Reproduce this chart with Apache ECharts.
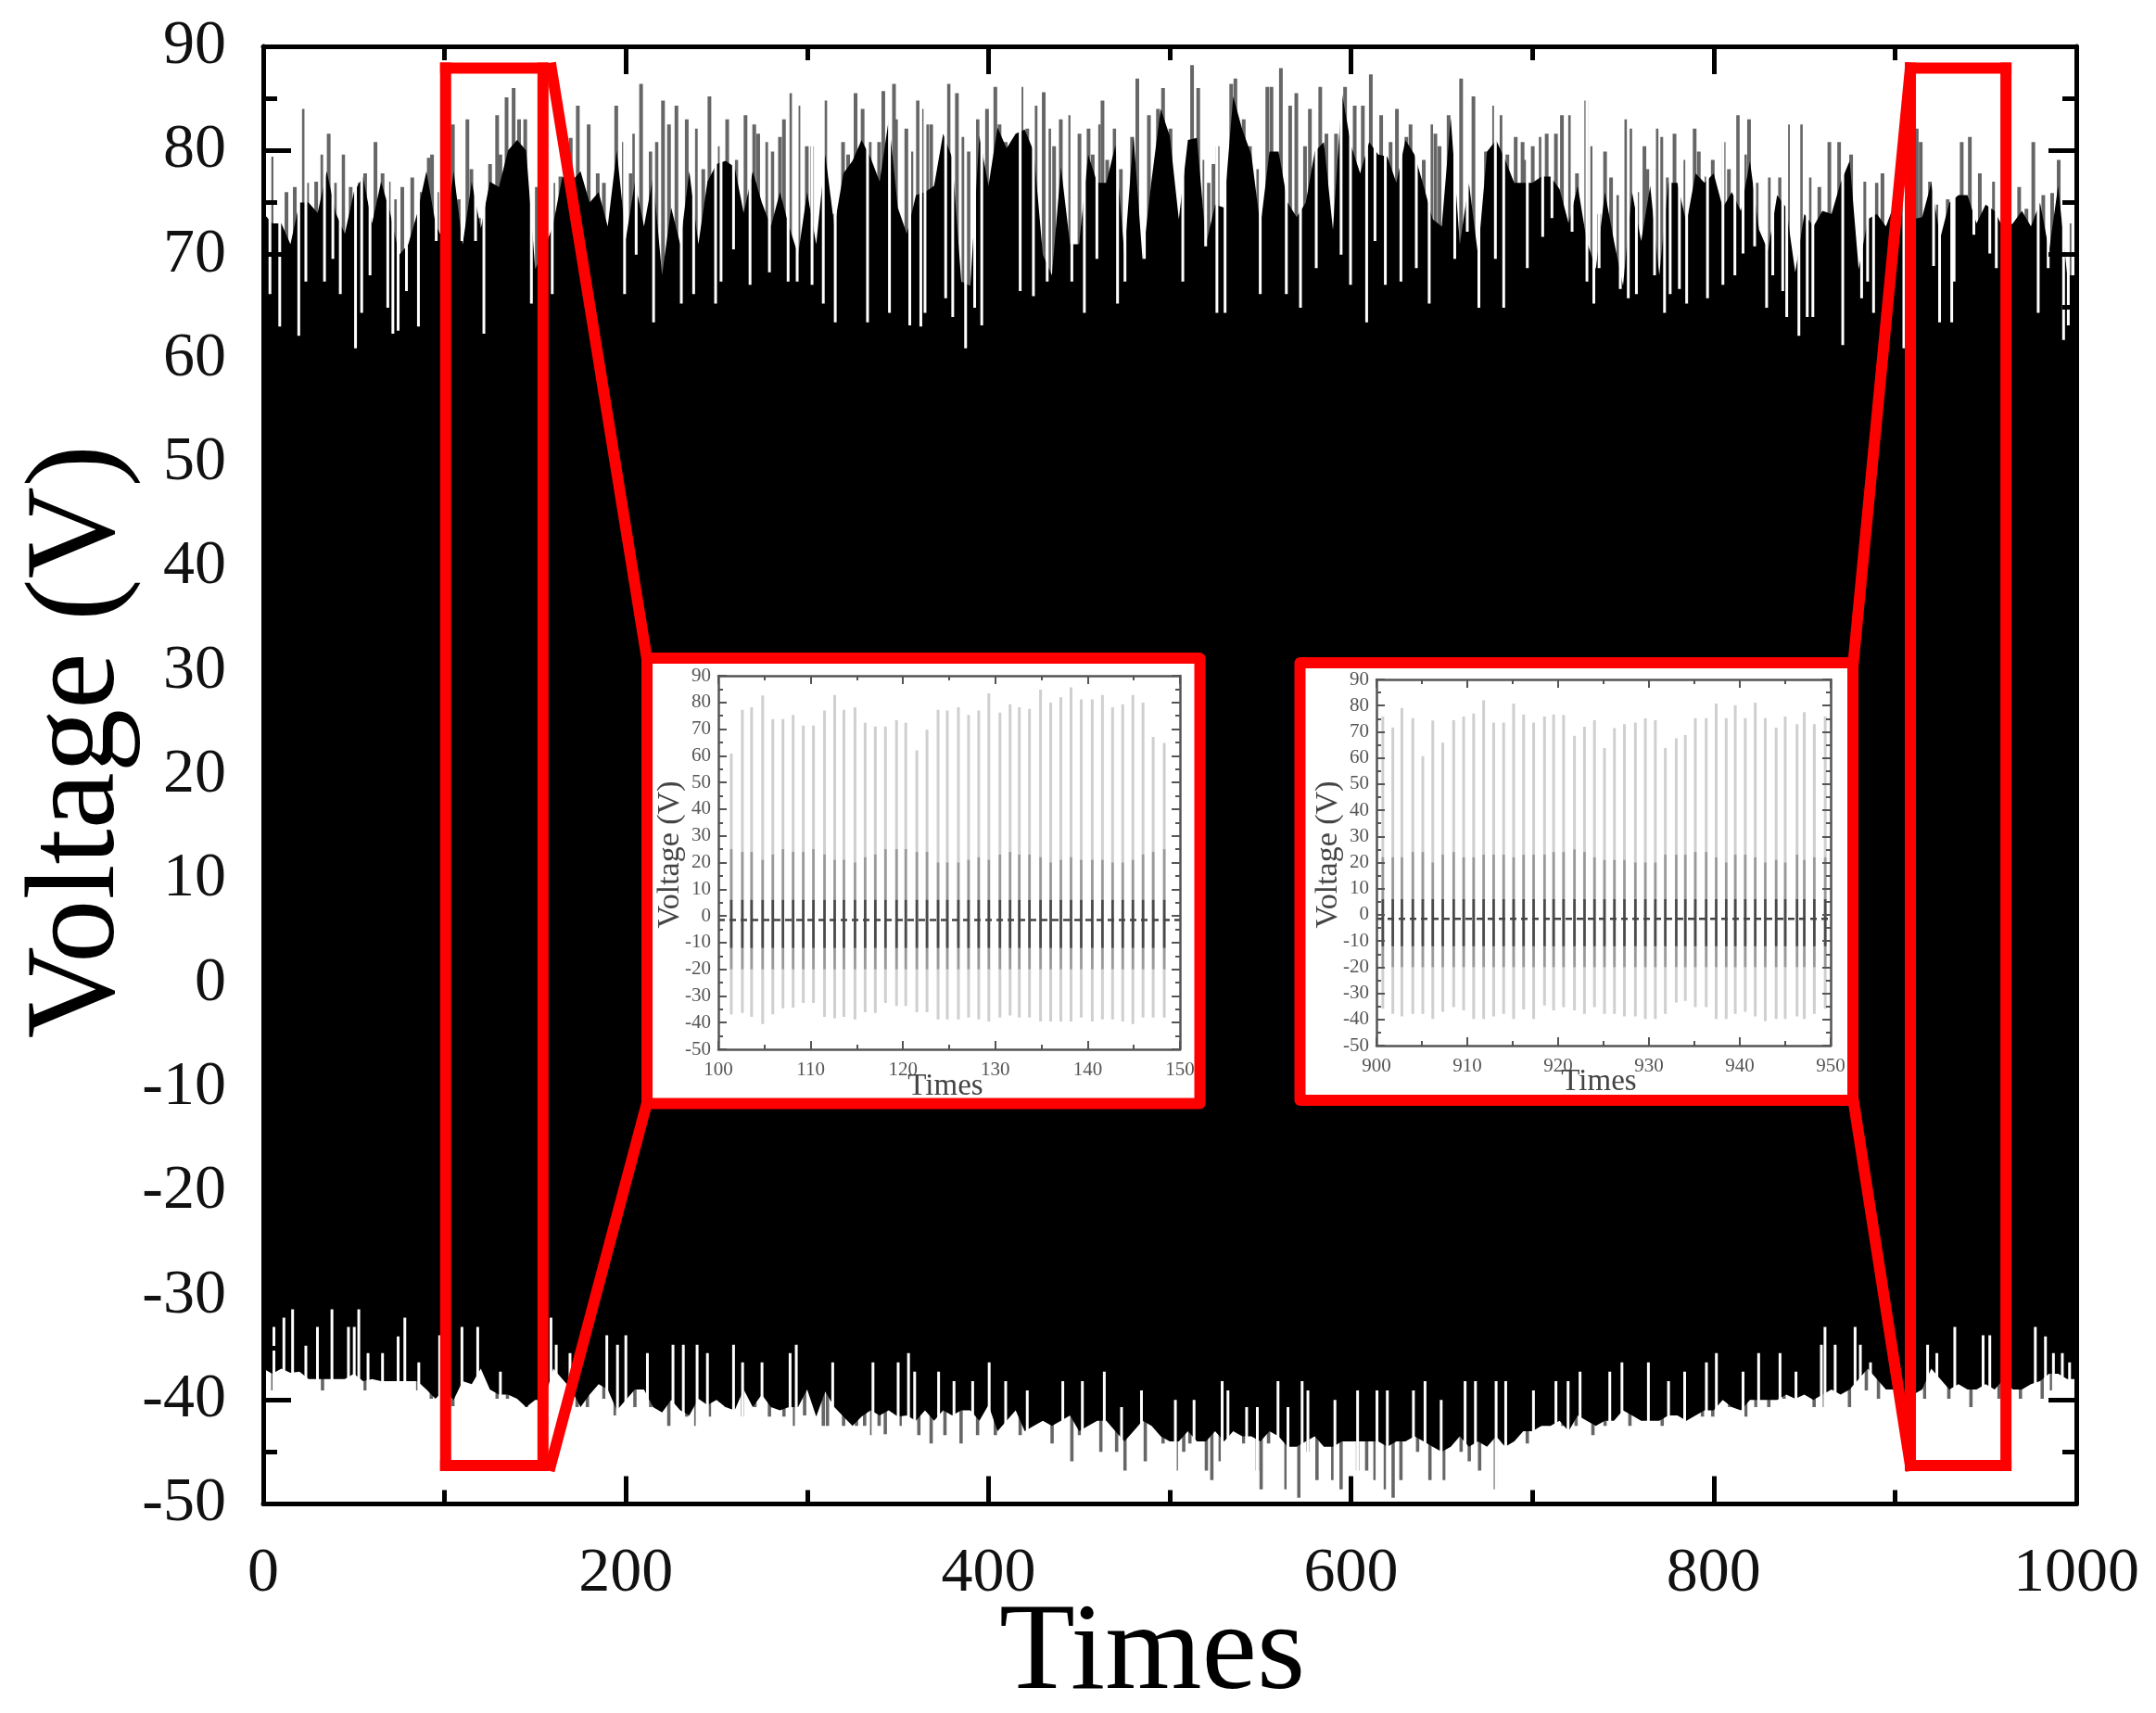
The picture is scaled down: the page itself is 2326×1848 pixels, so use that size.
<!DOCTYPE html>
<html>
<head>
<meta charset="utf-8">
<style>html,body{margin:0;padding:0;background:#fff}#c{width:2326px;height:1848px;filter:blur(0.7px)}</style>
<script src="https://cdn.jsdelivr.net/npm/echarts@6/dist/echarts.min.js"></script>
</head>
<body>
<div id="c"></div>
<script>
const levelStep = 5;
const upperLevels = [
74,73,73,71,75,75,74,78,74,72,
76,77.5,73,77,74,70,71,74,78,73,
71,78,71,77,72.5,77,76.5,80,81,80,
68.6,70.4,73,77.5,77,78,75,76,72.7,80,
71.5,77,72.7,77.5,68,74.5,71,78,71,77,
78.7,79,78.4,74,78,75,72.7,76,72.7,70,
76,71,79.6,72.7,77.8,79,81,79.3,77,83,
74.5,72,75.7,76,76.6,81.6,79.3,67.4,67,81.4,
76.6,82.2,80.2,81.6,82,79.9,70,68,78.4,71,
71,79.6,76.9,76.9,80.5,70,81.4,69.5,77.2,84,
81.4,73.4,81,81.2,71,74.8,74.5,85.2,82,79.6,
72.7,79.9,79.9,75,73.6,75,79.9,80.8,72.4,85.5,
80.5,77.8,80.8,79.6,79.4,76.9,81,79.6,76.6,73.4,
72.7,83.1,71,76.9,70,79.9,81,79.1,76.9,76.9,
76.9,77.5,77.5,76.3,73,76.6,71.3,68.6,76,71.3,
67,76,71.3,76.6,68,76.9,76.9,73,77.8,76.9,
77.8,74.5,76,74.2,79,72.4,70.4,75.7,74.5,68.3,
73.9,72.7,74.2,73.9,76.9,79,68.6,73.4,73.9,72.7,
75,76,73.4,73.6,76.9,71.6,75,75.7,75.7,73,
74.8,74.2,72.4,73,74.2,72.7,75,70.4,76.6,68,
68];
const lowerLevels = [
-37,-37.5,-37,-37.4,-37.3,-38,-38,-38,-38,-38,
-37.5,-38.2,-38,-38.2,-38.2,-38.2,-38.2,-38.2,-39,-39.9,
-39,-40,-38.2,-38.5,-37,-39,-39.5,-39.5,-39.9,-40.7,
-40,-40,-37,-38,-39,-40.7,-39.5,-38.5,-39,-41,
-40,-39,-39,-40.7,-41.2,-40,-41,-41.5,-39.9,-40.5,
-40,-40.7,-41,-39,-40.7,-39.5,-40.7,-41,-40.7,-40.7,
-39,-41.6,-39.2,-40.7,-41.6,-42.5,-41.6,-41,-41.5,-41,
-41.6,-41.5,-42,-41,-42,-41,-41.5,-41,-41,-42,
-40.5,-43,-42,-41,-43,-42.5,-42,-42.5,-42,-41.5,
-43,-42.5,-42,-42,-43,-44,-43,-42,-42.5,-43.5,
-44,-44,-43,-44,-44,-43,-44,-43,-43.5,-43.5,
-44,-43,-43.5,-44.5,-44.5,-44,-43.5,-44.5,-44.5,-44,
-44,-44,-44,-44,-44.5,-44,-44,-43.5,-44,-44.5,
-45,-44.5,-43.5,-44.5,-44,-44.5,-43.5,-44.5,-44,-43,
-43,-42.5,-42.5,-42,-43,-41.5,-42,-42.5,-42,-42,
-41,-41.5,-42,-42,-42,-41.5,-41.5,-42,-41.5,-41,
-41,-40,-40.7,-41,-40,-40,-40,-40,-39.5,-39.9,
-39.5,-40,-39.5,-39,-39.5,-39,-38,-37,-38,-39,
-39,-40,-39.5,-39,-37,-38,-39,-38.5,-39,-39,
-38.5,-39,-38,-39,-39,-38.5,-38.2,-37.5,-37.5,-38,
-38];
const upperPeaks = [[4.6,79.4],[12.8,76],[17.4,76.5],[22.4,84],[24.2,76.9],[29.2,77],[32.6,79.6],[36.1,81.6],[39.5,76.9],[44.1,79.6],[48.2,76.5],[53.2,76.9],[56.2,77.8],[61.9,80.8],[65.8,77.8],[69.2,77],[73.1,75.3],[76.7,76.5],[82.2,77.4],[86.8,76],[91.3,79.3],[93.1,79.6],[95.9,76],[104.6,82.5],[108,75.3],[112.6,83],[114.8,78.2],[119,73.5],[125.1,78.7],[129,83.4],[130.8,79.6],[134.2,85.1],[138.1,86],[141.1,83],[144.5,83],[150.9,76.5],[160,76.9],[163.9,77.5],[169.6,81.2],[173.5,84.3],[179.5,82.5],[184.5,77.8],[187.9,76.9],[194.7,84.3],[198.9,80.8],[202.7,77.8],[204.6,81.6],[208.4,86.4],[213.7,79.9],[216.9,80.8],[220.5,84.8],[223.8,82.5],[227.9,84.3],[233.6,83],[238.6,82.1],[242.7,78.2],[246.1,85.2],[251.8,80.4],[255.9,83],[260.9,79.1],[266,83.4],[270.8,82.5],[273,81.6],[278,80.8],[280.8,79.9],[285,81.3],[287.2,83],[290.6,85.5],[295.2,84.3],[299.8,80.4],[302.7,80.4],[310,84.8],[314.6,73.9],[319.8,80.8],[322.6,79.6],[326.7,85.5],[330.6,84],[334.5,80.8],[339.7,80.8],[342,85.7],[347.9,86.4],
[349,83],[354.7,82.1],[357.5,79.9],[361.1,84.8],[363.4,84],[366.1,82.5],[368.4,82.5],[373.5,78.7],[378,86.4],[382.6,85.5],[386.2,81.3],[389,79.9],[394,83],[399.2,84],[403.8,86.1],[406.1,82.5],[409.5,80.8],[413.6,79.6],[418.2,86.1],[421.4,82.1],[426,84.3],[430.5,85.6],[433.5,82.1],[436.2,80.4],[439.9,83],[445.1,83.4],[450.2,81.6],[455.2,82.1],[457.5,79.6],[460.9,82.5],[462.9,84.8],[465.5,79.1],[469.6,82.1],[473,78.2],[479.2,81.3],[482.1,86.9],[488.5,83.4],[493.5,84],[496.3,86],[500.4,82.1],[512.3,88.2],[515.7,86],[519.1,79.1],[521.4,76.9],[524.1,78.7],[526.4,80.4],[533.9,86.4],[536.2,86.9],[540.8,83],[544.2,80.4],[548.8,78.2],[553.8,86.1],[556.1,86.1],[561.3,87.9],[566.4,84.3],[569.8,85.5],[574.6,80.4],[577.3,84],[583,86.1],[586.4,81.6],[591.7,81.6],[596.7,86.1],[602,84.3],[606.5,84.3],[610.9,87.3],[616.6,83.4],[621.8,80.8],[625.3,84],[630.5,81.3],[632.8,82.5],[640.1,79.1],[644.2,82.5],[646.5,81.6],[648.8,80.4],[653.8,83.4],[660.7,86.9],[667.5,85.2],[674.4,79.9],[678.9,84.3],[683,83.4],[686.2,79.6],[690.8,81.3],
[694.6,80.8],[696.2,79.1],[700.2,80.4],[704.6,81.3],[707.9,81.6],[713,81.6],[716.3,83.4],[720.8,83.4],[724.6,77.8],[729.7,84.8],[733,80.4],[736.8,73.9],[740.1,79.9],[743.4,77.4],[747.4,75.7],[751.8,83],[754,82.1],[757.8,76],[761.8,80.4],[763.4,78.2],[768.5,82.1],[771.6,81.3],[774.5,77.4],[778.4,81.6],[784.4,79.1],[789.5,82.1],[791.8,79.9],[796,77.5],[799.5,79.1],[805.5,80.8],[808.4,78.2],[813.3,83.4],[817.3,79.6],[819.5,83],[823.7,76.9],[830.4,77.4],[836.6,77.4],[841,82.5],[848.1,82.5],[853.6,77.4],[858.3,76.5],[863.8,80.8],[869.2,80.8],[875.8,79.6],[883.6,77],[889.8,76.9],[893.1,77.8],[912,82.1],[914.2,80.8],[919.3,77],[923.7,74.8],[929.1,75.3],[936.8,80.8],[941.3,81.3],[946.8,77.8],[954.6,77],[968.5,76.5],[972.5,74.4],[976.3,80.8],[981.8,75.7],[986.7,75.9],[990.3,79.1],[996.3,73]];
const upperNotches = [[3.7,66.2],[9.1,63.1],[19.6,62.2],[23.5,67.4],[33.8,67.4],[38.4,69.6],[42.5,66.2],[50.9,61],[54.3,64.4],[58.9,68],[68.7,64.9],[71.5,62.4],[74.4,62.7],[79,66.5],[85.6,63.1],[95.4,71.3],[109.6,71.3],[117.1,71.3],[121.7,62.4],[147.9,65.3],[159.4,66.2],[199.3,66.2],[205.7,70],[215.3,63.5],[230.6,65.3],[237.4,66.2],[249.5,65.3],[252.5,67.4],[259.4,70.5],[268.5,67.1],[279.2,68.3],[289.5,67.4],[294.5,67.4],[302.7,67.1],[308.9,65.3],[315.5,63.5],[333.3,63.5],[345.4,64.4],
[356.6,63.2],[362.7,63.1],[365,64.4],[376.4,65.8],[380.3,64],[387.4,61],[392.4,64.9],[396.3,63.2],[417.5,66.5],[424.8,66],[432.4,67.4],[446,67.4],[452.9,64.4],[459.8,69.6],[471.2,65.3],[475.3,67.4],[486,69.6],[507.2,67.4],[519.8,70.8],[526,64.4],[530.5,64.4],[549.9,66.2],[564.3,66.2],[572.1,64.9],[580.8,68.7],[594.5,70],[599.7,67.1],[608.6,63.5],[613.2,71.3],[618.9,67.1],[627.5,67.4],[636,68.7],[643.1,65.3],[657.2,69.6],[664.1,72.2],[670.5,64.9],[679.6,69.6],[684.2,64.9],[697.2,68.7],
[705.7,71.7],[710.8,73.5],[721.9,72.2],[730.1,67.4],[733.9,65.3],[736.8,68.7],[748.5,66.7],[752.9,65.8],[757.4,66.2],[767.4,68],[772.9,64.4],[776,66.2],[781.1,66.7],[785.1,65.3],[796.6,65.8],[805.1,67.1],[811.7,68],[816.2,70.1],[822.6,70.8],[829.2,64.9],[832.6,68],[838.1,66.5],[840.3,64],[847,62.2],[851.6,64],[854.7,64],[871.2,61.3],[881.6,65.8],[884.9,67.4],[888.2,64.4],[904.9,61],[921.3,68.9],[924.6,63.5],[931.3,63.5],[932.6,67.4],[943.5,71.9],[952.3,70.1],[955.9,68.7],[979,64.4],[984.5,68.7],[993,61.8],[995.6,63.2]];
const lowerPeaks = [[5.3,-39.1],[32.7,-39.1],[56.2,-39.1],[85.2,-39.1],[92.7,-39.9],[104.6,-40.6],[129,-39.9],[134.7,-39.9],[145.2,-40.7],[173.1,-40.7],[178.8,-40.7],[187.9,-39.9],[194.1,-41.5],[205,-40.7],[213.7,-40.7],[223.7,-42.5],[233.6,-41.6],[238.6,-42.5],[246.1,-41.6],[255.3,-40.7],[264.4,-41.6],[271.2,-40.7],[279.2,-41.6],[287.2,-41.6],[293,-42.5],[298.6,-41.5],[308.9,-42.5],[311.2,-42.5],[320.1,-42.5],[327.2,-42.5],[331.7,-42.5],[335.6,-43.4],[339.7,-42.5],[343.1,-43.3],
[351.3,-42.5],[361.6,-43.4],[368.4,-44.2],[376,-43.4],[384.9,-44.2],[394,-43.4],[403.8,-43.4],[417.5,-43.4],[435.1,-44.2],[446,-45.9],[450.2,-43.4],[462,-45],[470.7,-45],[475.3,-46.8],[486.5,-45.9],[496.3,-44.2],[503.6,-46.8],[507.7,-45],[511.1,-44.2],[520.2,-46.8],[523.2,-47.7],[527.8,-45.9],[540.8,-44.2],[548.3,-46.8],[550.4,-48.6],[554.5,-44.2],[564.1,-48.6],[571.2,-49.4],[576.2,-45],[581.2,-47.7],[589.9,-47.7],[594.5,-48.6],[603.6,-46.8],[608.6,-46.8],[613.2,-47.7],[618.9,-48.6],[623.2,-49.4],[627.5,-47.7],[636.7,-45],[643.5,-47.7],[651.1,-47.7],[655,-44.2],[660.7,-45],[665.2,-45.9],[670.9,-46.8],[679.6,-48.6],[684,-44.2],[697.2,-44.2],
[704.1,-42.5],[708.6,-41.6],[716.8,-42.5],[724.1,-42.5],[733.4,-43.4],[740.1,-42.5],[753.8,-42.5],[760,-41.6],[771.6,-42.5],[782.2,-41.6],[793.8,-41.6],[799.5,-41.6],[808.8,-40.7],[817.7,-41.6],[823.3,-40.7],[830.4,-40.7],[838.8,-39.9],[855.4,-40.7],[860.3,-40.7],[874.9,-40.7],[884.2,-39.1],[890.9,-39.9],[916.4,-39.9],[929.7,-39.9],[941.9,-40.7],[957.4,-39.9],[969.2,-39.9],[981.2,-39.9],[986.3,-39.1]];
const lowerNotches = [[5.9,-33],[11.4,-32.1],[16.2,-31.3],[23.5,-34.8],[29.9,-33],[37.9,-31.3],[47,-33],[50.2,-33],[52.7,-31.3],[57.8,-35.5],[65.8,-35.5],[74.4,-33.9],[78.1,-32.1],[85.8,-36.4],[97.3,-33.8],[109.6,-33],[118.3,-33],[130.8,-37.3],[158.7,-32.1],[161.6,-34.7],[169.2,-35.5],[189.5,-33.8],[195.4,-34.7],[200,-33.8],[211.9,-35.5],[226,-34.7],[231.7,-34.7],[239.3,-34.7],[245,-35.5],[259.4,-34.7],[264.4,-36.4],[275.1,-36.4],[290.6,-35.5],[294,-34.7],[314.1,-36.4],[336.3,-36.4],
[350.2,-36.4],[355.9,-35.5],[359.3,-37.3],[372.5,-37.3],[381,-38.2],[391.3,-38.2],[400.4,-36.4],[409.5,-38.2],[421.4,-39.1],[441,-38.2],[451.8,-38.2],[463.9,-37.3],[473.4,-40.7],[484.4,-39.1],[503.1,-40],[513.4,-40],[528.9,-38.2],[532.1,-39.1],[542.4,-40.7],[548.3,-40.7],[559.7,-38.2],[565.2,-40.7],[573,-38.2],[576.2,-39.1],[591.1,-40],[603.6,-39.1],[614.3,-39.1],[620,-39.1],[634.4,-39.1],[640.8,-38.2],[649.7,-40],[662.9,-38.2],[668.6,-38.2],[680,-38.2],[685.3,-38.2],[700.6,-39.1],
[713,-38.2],[719.7,-38.2],[726.3,-37.3],[742.7,-37.3],[749.4,-36.4],[764,-36.4],[775.1,-38.2],[784,-37.3],[796,-36.4],[801.5,-35.5],[816.2,-37.3],[824.8,-35.5],[836.6,-35.5],[845.4,-37.3],[859.4,-34.7],[861.4,-33],[867,-34.7],[878,-33],[880.9,-34.7],[886.5,-36.4],[918,-34.7],[923.1,-35.5],[933,-33],[948.6,-33.8],[952.3,-33.8],[977.4,-33],[983,-33.9],[987.4,-35.5],[992.3,-35.5],[996.3,-36.4]];

// Left inset (100-150)
const inset1X = [101.4,102.6,103.6,104.8,105.9,107,108.1,109.2,110.3,111.5,112.6,113.6,114.8,115.9,117,118.1,119.3,120.3,121.5,122.6,123.8,124.8,126,127.1,128.2,129.3,130.5,131.6,132.6,133.7,134.9,136,137.1,138.2,139.3,140.5,141.6,142.7,143.8,144.9,146,147.1,148.3];
const inset1High = [60.8,77.2,78.2,82.6,73.8,73.8,75.3,71.3,71.3,77,82.8,77.2,78.2,72.4,71,71,73.3,72.4,62,69.8,77.2,77,78.2,75.3,77,83.4,76.2,79.3,78.2,77.6,84.8,79.9,81.9,85.7,81.1,81.1,82.8,78.2,79.3,82.8,79.9,67.1,64.8];
const inset1Low = [-37,-36.4,-37.8,-40.5,-36.9,-34.6,-34.4,-32.6,-32.6,-37.8,-38.4,-37.8,-38.8,-36.1,-36.4,-32.6,-33.8,-33.8,-36.1,-36.1,-38.8,-38.8,-38.8,-38.1,-38.8,-39.6,-38.1,-37.3,-38.1,-38.1,-39.6,-39.6,-39.6,-39.6,-38.1,-39.6,-38.8,-38.8,-39.6,-40.5,-38.1,-38.1,-38.1];
const inset1Mid = [25,24,24,21,23,25,24,24,25,23,21,21,20,22,23,25,25,25,24,24,20,20,20,21,22,21,23,24,23,23,22,20,21,22,21,21,21,20,20,21,23,24,25];
// Right inset (900-950)
const inset2X = [900.7,901.8,902.8,904,905.1,906.2,907.3,908.5,909.6,910.7,911.8,912.9,914,915.1,916.2,917.3,918.5,919.5,920.6,921.8,922.9,924,925.1,926.2,927.3,928.5,929.6,930.7,931.8,933,934,935.1,936.3,937.4,938.5,939.5,940.6,941.7,942.8,944,945,946.3,947.1,948.2,949.4];
const inset2High = [75.8,71.7,79.1,75.2,60.7,74.3,65.8,74.4,75.8,77,82,73.5,73.5,80.8,76.6,73.5,75.8,76.6,76.4,68.5,71.9,74.4,63.8,71.4,72.9,73.5,75.1,74.4,63.8,67.5,68.7,75.2,75.2,80.8,75.2,80.2,75.2,81.1,75.2,71.6,75.8,72.9,77.5,72.9,75.8];
const inset2Low = [-35.9,-37.9,-38.8,-37.9,-37.9,-39.8,-37.1,-35.3,-36.5,-39.8,-39.8,-38.8,-37.9,-39.8,-36.2,-39.8,-34.7,-36.5,-35.3,-36.5,-37.9,-35.3,-37.9,-37.9,-38.8,-38.8,-39.8,-39.8,-37.9,-33.5,-32.9,-35.3,-35.3,-39.8,-39.8,-37.9,-37.1,-38.8,-40.6,-39.8,-39.8,-38.8,-39.8,-37.9,-35.9];
const inset2Mid = [22,22,22,24,24,20,23,24,22,22,23,23,23,22,23,23,23,24,24,25,24,22,21,21,21,20,20,20,23,23,23,24,24,22,20,23,23,22,20,21,20,23,21,22,22];
const insetBaseline = -1.5;
const insetMidLow = -20;
const insetCoreHigh = 6;
const insetCoreLow = -12;

// Red guides in main-panel units: [x0, y0, x1, y1]
const guideLines = [
[100.6,87.9,154.3,87.9],[100.6,-46.3,154.3,-46.3],[100.6,87.9,100.6,-46.3],[154.3,87.9,154.3,-46.3],
[908.5,87.9,961.2,87.9],[908.5,-46.3,961.2,-46.3],[908.5,87.9,908.5,-46.3],[961.2,87.9,961.2,-46.3],
[158.9,87.9,211.6,31.2],[158.5,-46.3,211.6,-11.5],[908.5,87.9,877,30.8],[908.5,-46.3,877,-11.2]];

const serif = '"Liberation Serif","Times New Roman",serif';

function axis(kind, pos, range, gridIndex, o) {
  return {
    type:'value', gridIndex, position:pos, min:range[0], max:range[1], interval:o.interval, z:o.z,
    axisLine:{show:true,onZero:false,lineStyle:{color:o.color,width:o.lw}},
    axisTick:{show:true,inside:true,length:o.major,lineStyle:{color:o.color,width:o.tw}},
    minorTick:{show:true,splitNumber:2,length:o.minor,lineStyle:{color:o.color,width:o.tw}},
    splitLine:{show:false},minorSplitLine:{show:false},
    axisLabel:{show:!!o.labels,margin:o.margin,fontFamily:serif,fontSize:o.font,color:o.text,hideOverlap:false,showMinLabel:true,showMaxLabel:true,formatter:(v)=>String(v)}
  };
}
const mainStyle = {z:6,color:'#000',lw:5,tw:5,major:30,minor:15,font:68,text:'#111'};
const insetStyle = {z:32,color:'#555',lw:2.5,tw:2,major:9,minor:5,font:21,text:'#555'};
const yRange = [-50,90];
const xAxes = [], yAxes = [];
function addPanel(xRange, xInterval, gridIndex, s, xm, ym) {
  xAxes.push(axis('x','bottom',xRange,gridIndex,{...s,interval:xInterval,labels:true,margin:xm}));
  xAxes.push(axis('x','top',xRange,gridIndex,{...s,interval:xInterval,labels:false}));
  yAxes.push(axis('y','left',yRange,gridIndex,{...s,interval:10,labels:true,margin:ym}));
  yAxes.push(axis('y','right',yRange,gridIndex,{...s,interval:10,labels:false}));
}
addPanel([0,1000],200,0,mainStyle,42,40);
addPanel([100,150],10,1,insetStyle,12,8);
addPanel([900,950],10,2,insetStyle,12,8);

function spikes(name, data, base, color, width, z) {
  return {
    name, type:'custom', xAxisIndex:0, yAxisIndex:0, z, silent:true, clip:true, data,
    encode:{x:0,y:1},
    renderItem(p, api) {
      const a = api.coord([api.value(0), api.value(1)]);
      const b = api.coord([api.value(0), base]);
      return {type:'line',shape:{x1:a[0],y1:a[1],x2:b[0],y2:b[1]},style:{stroke:color,lineWidth:width}};
    }
  };
}
function body(name, levels) {
  return {
    name, type:'line', xAxisIndex:0, yAxisIndex:0, z:4, silent:true, showSymbol:false,
    data:levels.map((v,i)=>[i*levelStep,v]),
    lineStyle:{width:0,color:'#000'},
    areaStyle:{color:'#000',opacity:1,origin:0}
  };
}
function insetSeries(idx, xs, hi, lo, mid) {
  const ax = idx*2, ay = idx*2;
  return [{
    type:'custom', xAxisIndex:ax, yAxisIndex:ay, z:30, silent:true, clip:true,
    data:xs.map((x,i)=>[x,hi[i],lo[i],mid[i]]),
    encode:{x:0,y:[1,2]},
    renderItem(p, api) {
      const x = api.value(0);
      const seg = (v0,v1,c,w) => {
        const a = api.coord([x,v0]), b = api.coord([x,v1]);
        return {type:'line',shape:{x1:a[0],y1:a[1],x2:b[0],y2:b[1]},style:{stroke:c,lineWidth:w}};
      };
      return {type:'group',children:[
        seg(api.value(1),api.value(2),'#cfcfcf',3),
        seg(api.value(3),insetMidLow,'#999999',2.6),
        seg(insetCoreHigh,insetCoreLow,'#4a4a4a',2.6)
      ]};
    }
  },{
    type:'line', xAxisIndex:ax, yAxisIndex:ay, z:31, silent:true, showSymbol:false,
    data:[[xAxes[ax].min,insetBaseline],[xAxes[ax].max,insetBaseline]],
    lineStyle:{color:'#444',width:2.5,type:[7,5]}
  }];
}
const guides = {
  type:'custom', xAxisIndex:0, yAxisIndex:0, z:10, silent:true, clip:false, data:guideLines,
  encode:{x:[0,2],y:[1,3]},
  renderItem(p, api) {
    const a = api.coord([api.value(0),api.value(1)]), b = api.coord([api.value(2),api.value(3)]);
    return {type:'line',shape:{x1:a[0],y1:a[1],x2:b[0],y2:b[1]},style:{stroke:'#ff0000',lineWidth:12,lineCap:'square'}};
  }
};
const insetBox = (x,y,w,h) => ({type:'rect',z:20,silent:true,shape:{x,y,width:w,height:h},style:{fill:'#fff',stroke:'#ff0000',lineWidth:12,lineJoin:'round'}});
const label = (text,x,y,size,color,rot,z) => ({type:'text',x,y,rotation:rot,z,silent:true,style:{text,fontFamily:serif,fontSize:size,fill:color,align:'center',verticalAlign:'middle'}});

const option = {
  animation:false, backgroundColor:'#fff',
  grid:[
    {left:284,top:50,width:1956,height:1572.5},
    {left:775,top:729,width:498,height:403,z:25},
    {left:1485,top:733,width:490,height:395,z:25}
  ],
  xAxis:xAxes, yAxis:yAxes,
  series:[
    spikes('upper peaks',upperPeaks,60,'#666666',4,3),
    spikes('lower peaks',lowerPeaks,-30,'#666666',3.6,3),
    body('upper body',upperLevels),
    body('lower body',lowerLevels),
    spikes('upper notches',upperNotches,90,'#ffffff',3,5),
    spikes('lower notches',lowerNotches,-50,'#ffffff',3,5),
    guides,
    ...insetSeries(1,inset1X,inset1High,inset1Low,inset1Mid),
    ...insetSeries(2,inset2X,inset2High,inset2Low,inset2Mid)
  ],
  graphic:[
    insetBox(698,710,596.5,480.5),
    insetBox(1402.5,715,596.5,472),
    label('Times',1243,1786,134,'#000',0,40),
    label('Voltage (V)',86,800,137,'#000',Math.PI/2,40),
    label('Times',1020,1172,33,'#444',0,40),
    label('Voltage (V)',723,922,34,'#444',Math.PI/2,40),
    label('Times',1725,1167,33,'#444',0,40),
    label('Voltage (V)',1433,922,34,'#444',Math.PI/2,40)
  ]
};
const chart = echarts.init(document.getElementById('c'),null,{renderer:'canvas',width:2326,height:1848});
chart.setOption(option);
</script>
</body>
</html>
